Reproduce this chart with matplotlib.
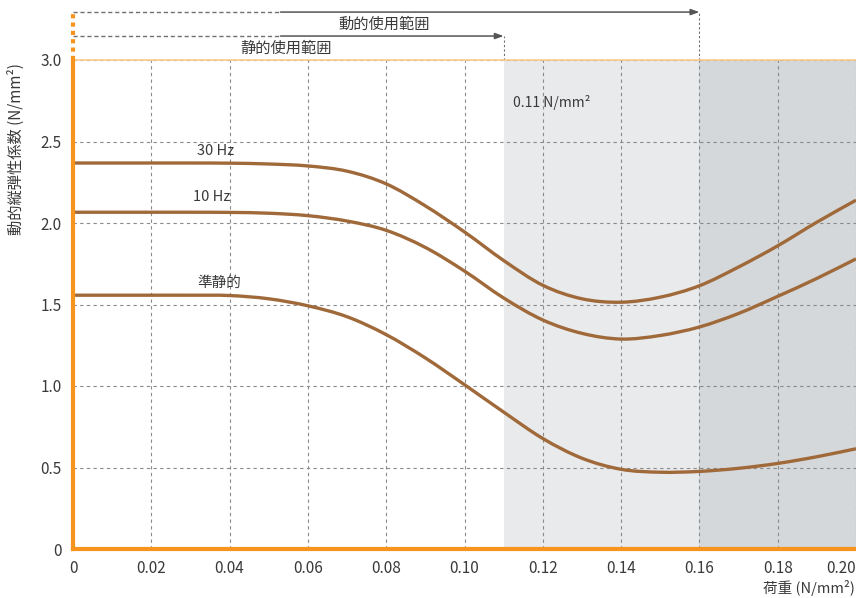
import numpy as np
import matplotlib
matplotlib.use("Agg")
import matplotlib.pyplot as plt
from matplotlib.path import Path
import matplotlib.patches as patches

plt.rcParams['font.family'] = ['Noto Sans CJK JP', 'DejaVu Sans']

# load (N/mm2) and dynamic modulus (N/mm2)
load = [0.00, 0.01, 0.02, 0.03, 0.04, 0.05, 0.06, 0.07, 0.08, 0.09, 0.10,
        0.11, 0.12, 0.13, 0.14, 0.15, 0.16, 0.17, 0.18, 0.19, 0.20]
hz30 = [2.368, 2.368, 2.368, 2.368, 2.367, 2.362, 2.35, 2.318, 2.24, 2.105, 1.945,
        1.77, 1.618, 1.535, 1.514, 1.545, 1.615, 1.73, 1.86, 2.005, 2.14]
hz10 = [2.066, 2.066, 2.066, 2.066, 2.065, 2.06, 2.045, 2.012, 1.955, 1.85, 1.705,
        1.54, 1.405, 1.323, 1.288, 1.31, 1.362, 1.445, 1.55, 1.66, 1.78]
quasi = [1.557, 1.557, 1.557, 1.557, 1.555, 1.535, 1.492, 1.425, 1.315, 1.172, 1.008,
         0.84, 0.678, 0.557, 0.489, 0.471, 0.476, 0.495, 0.525, 0.566, 0.615]

series = [("30 Hz", hz30), ("10 Hz", hz10), ("準静的", quasi)]
label_pos = {"30 Hz": (0.0365, 2.44), "10 Hz": (0.0355, 2.16), "準静的": (0.0375, 1.63)}

x_ticks = [0, 0.02, 0.04, 0.06, 0.08, 0.10, 0.12, 0.14, 0.16, 0.18, 0.20]
x_labels = ["0", "0.02", "0.04", "0.06", "0.08", "0.10", "0.12", "0.14", "0.16", "0.18", "0.20"]
y_ticks = [0, 0.5, 1.0, 1.5, 2.0, 2.5, 3.0]
y_labels = ["0", "0.5", "1.0", "1.5", "2.0", "2.5", "3.0"]

static_limit = 0.11
dynamic_limit = 0.16

orange = '#f7941d'
brown = '#a0693a'
text_col = '#3a3a3a'


def smooth_path(xs, ys):
    """Catmull-Rom through the points, drawn as cubic bezier segments"""
    pts = np.column_stack([xs, ys])
    verts = [pts[0]]
    codes = [Path.MOVETO]
    n = len(pts)
    for i in range(n - 1):
        p0 = pts[max(i - 1, 0)]
        p1 = pts[i]
        p2 = pts[i + 1]
        p3 = pts[min(i + 2, n - 1)]
        c1 = p1 + (p2 - p0) / 6.0
        c2 = p2 - (p3 - p1) / 6.0
        verts += [c1, c2, p2]
        codes += [Path.CURVE4] * 3
    return Path(verts, codes)


fig = plt.figure(figsize=(8.56, 5.98), dpi=100)
ax = fig.add_axes([73 / 856, 49 / 598, 783 / 856, 489 / 598])
ax.set_xlim(0, 0.20)
ax.set_ylim(0, 3.0)

# shaded ranges
ax.axvspan(static_limit, dynamic_limit, color='#e9eaec', zorder=0, lw=0)
ax.axvspan(dynamic_limit, 0.20, color='#d5d8db', zorder=0, lw=0)

ax.set_xticks(x_ticks)
ax.set_xticklabels(x_labels)
ax.set_yticks(y_ticks)
ax.set_yticklabels(y_labels)
ax.tick_params(length=0, labelsize=11, labelcolor=text_col, pad=8)
ax.get_xticklabels()[-1].set_horizontalalignment('right')
ax.grid(True, color='#8a8a8a', linestyle=(0, (3, 3)), linewidth=0.8, zorder=1)
ax.set_axisbelow(True)

for side in ['top', 'right']:
    ax.spines[side].set_visible(False)
for side in ['left', 'bottom']:
    ax.spines[side].set_color(orange)
    ax.spines[side].set_linewidth(3)
    ax.spines[side].set_zorder(5)

# thin orange line at the top of the plot
ax.plot([0, 0.20], [3.0, 3.0], color='#fcc98c', lw=1.2, zorder=4, clip_on=False)

for name, vals in series:
    patch = patches.PathPatch(smooth_path(load, vals), facecolor='none',
                              edgecolor=brown, lw=2.4, zorder=3, capstyle='butt')
    ax.add_patch(patch)
    lx, ly = label_pos[name]
    ax.text(lx, ly, name, fontsize=10.5, color=text_col, ha='center', va='center')

ax.text(0.1125, 2.74, "0.11 N/mm²", fontsize=10, color=text_col, ha='left', va='center')

# ranges above the plot
y_dyn = 3.294
y_sta = 3.147
ax.plot([0, 0], [3.0, 3.30], color=orange, lw=3, linestyle=(0, (1, 1)),
        solid_capstyle='butt', dash_capstyle='butt', clip_on=False, zorder=6)
for lim, yy, name, tx in [(dynamic_limit, y_dyn, "動的使用範囲", 0.0795),
                          (static_limit, y_sta, "静的使用範囲", 0.0545)]:
    ax.plot([0, 0.053], [yy, yy], color='#707070', lw=1, linestyle=(0, (3, 2)), clip_on=False)
    ax.annotate("", xy=(lim, yy), xytext=(0.053, yy), annotation_clip=False,
                arrowprops=dict(arrowstyle='-|>,head_length=0.5,head_width=0.18',
                                color='#555555', lw=1.1, shrinkA=0, shrinkB=0))
    ax.plot([lim, lim], [3.0, yy], color='#707070', lw=0.8, linestyle=(0, (2, 2)), clip_on=False)
    ax.text(tx, yy - 0.075, name, fontsize=11, color=text_col, ha='center', va='center')

ax.set_ylabel("動的縦弾性係数 (N/mm²)", fontsize=11, color=text_col)
ax.yaxis.set_label_coords(-0.0613, 0.818)
fig.text(855 / 856, 10 / 598, "荷重 (N/mm²)", fontsize=10.5, color=text_col,
         ha='right', va='center')

fig.savefig("out.png", dpi=100)
